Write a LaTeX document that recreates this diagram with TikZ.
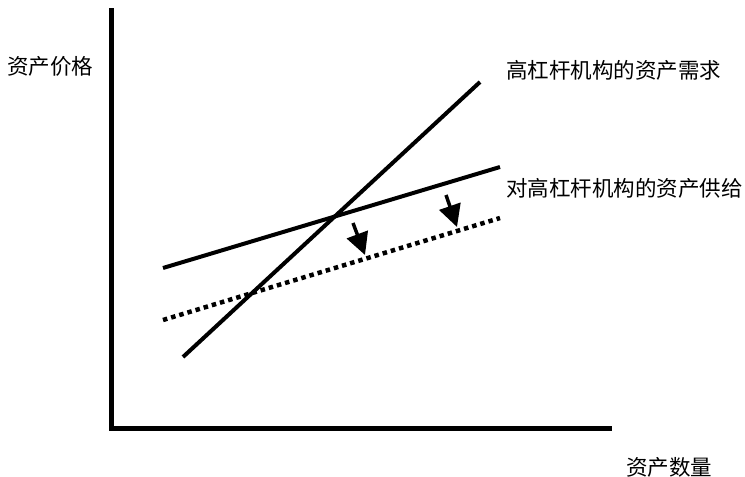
\documentclass[tikz,border=0pt]{standalone}
\usepackage{fontspec}
\newfontfamily\cjk{Noto Sans CJK SC}
\usetikzlibrary{arrows.meta}
\tikzset{
  curve/.style={line width=4pt},
  shift arrow/.style={line width=3.5pt,-{Triangle[width=22pt,length=22pt]}},
  lbl/.style={font=\cjk\fontsize{21.5}{25}\selectfont,inner sep=0pt}
}
\begin{document}
\begin{tikzpicture}[x=1pt,y=-1pt]
  \useasboundingbox (0,0) rectangle (745,477);
  % axes
  \draw[line width=5pt] (111,8)--(111,428)--(612,428);
  \node[lbl,right] (price) at (7,66) {资产价格};
  \node[lbl,right] (qty) at (626,467) {资产数量};
  % demand and supply
  \coordinate (d0) at (183,357);
  \coordinate (d1) at (480,82);
  \coordinate (s0) at (163,268);
  \coordinate (s1) at (500,167);
  \coordinate (t0) at (163,320);
  \coordinate (t1) at (500,218);
  \draw[curve] (d0)--(d1);
  \draw[curve] (s0)--(s1);
  \draw[line width=4.5pt,dash pattern=on 4.5pt off 4pt] (t0)--(t1);
  \node[lbl,right] (demand) at (506,70) {高杠杆机构的资产需求};
  \node[lbl,right] (supply) at (506,188) {对高杠杆机构的资产供给};
  % shift of supply
  \coordinate (a0) at (353,223);
  \coordinate (a1) at (365,255);
  \coordinate (b0) at (446,195);
  \coordinate (b1) at (457,227);
  \draw[shift arrow] (a0)--(a1);
  \draw[shift arrow] (b0)--(b1);
\end{tikzpicture}
\end{document}
